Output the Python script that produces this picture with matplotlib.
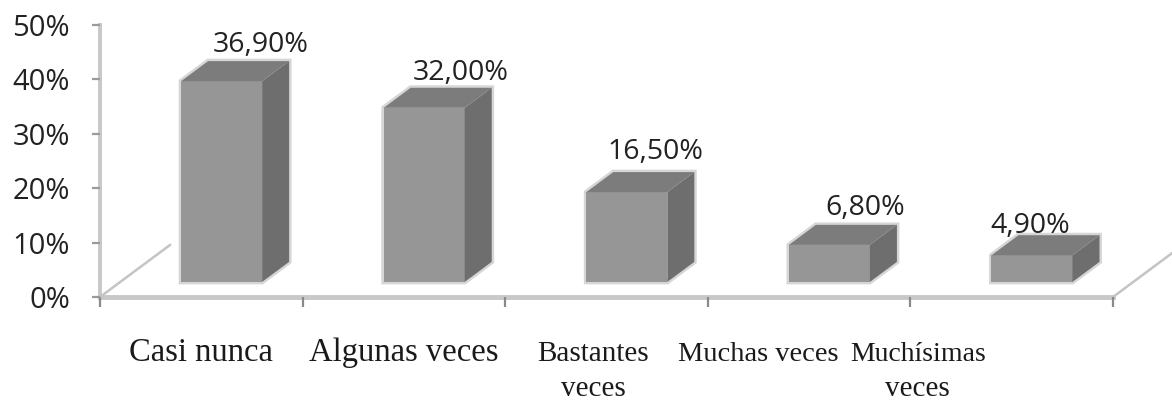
import matplotlib.pyplot as plt
from matplotlib.patches import Polygon

categories = ["Casi nunca", "Algunas veces", "Bastantes\nveces", "Muchas veces", "Muchísimas\nveces"]
values = [36.9, 32.0, 16.5, 6.8, 4.9]
value_labels = ["36,90%", "32,00%", "16,50%", "6,80%", "4,90%"]
yticks = [0, 10, 20, 30, 40, 50]
ytick_labels = ["0%", "10%", "20%", "30%", "40%", "50%"]

# pixel scale of the reference (px per category, px per percent)
PX = 202.6
PY = 5.44
W_FIG, H_FIG = 1172, 403

# 3d depth of the floor and of the bars
DX = 70 / PX
DY = 52 / PY
f0, f1 = 0.29, 0.676
BW = 81 / PX

# small nudges (px) to place texts like the original
lab_dx = [12, 9, 2, 9, -29]
lab_dy = [9, 8, 13, 10, 2]
cat_dx = [0, 0, -13, -51, -94]
cat_size = [23.5, 23.5, 21, 20.5, 20]

fig = plt.figure(figsize=(W_FIG / 100, H_FIG / 100), dpi=100)
ax = fig.add_axes([100 / W_FIG, (H_FIG - 297) / H_FIG, (W_FIG - 100) / W_FIG, 297 / H_FIG])
ax.set_xlim(0, (W_FIG - 100) / PX)
ax.set_ylim(0, 297 / PY)
for s in ax.spines.values():
    s.set_visible(False)

# walls / floor
ax.plot([0, 0], [0, 50], color="#c8c8c8", lw=2.8, clip_on=False, zorder=1)
ax.plot([0, 5], [0, 0], color="#c8c8c8", lw=3.5, clip_on=False, zorder=1)
ax.plot([0, DX], [0, DY], color="#c4c4c4", lw=1.8, clip_on=False, zorder=1)
ax.plot([5, 5 + DX], [0, DY], color="#c4c4c4", lw=1.8, clip_on=False, zorder=1)

ax.set_yticks(yticks)
ax.set_yticklabels(ytick_labels, fontfamily="Open Sans", fontsize=21, color="#222222")
ax.set_xticks(range(6))
ax.set_xticklabels([])
ax.tick_params(axis="y", length=5.5, width=1.6, color="#9a9a9a", pad=16)
ax.tick_params(axis="x", length=7, width=1.6, color="#8a8a8a")

ddx = (f1 - f0) * DX
ddy = (f1 - f0) * DY
for i, v in enumerate(values):
    x0 = i + 0.5 - BW / 2 + f0 * DX
    x1 = x0 + BW
    y0 = f0 * DY
    y1 = y0 + v
    outline = [(x0, y0), (x1, y0), (x1 + ddx, y0 + ddy), (x1 + ddx, y1 + ddy), (x0 + ddx, y1 + ddy), (x0, y1)]
    ax.add_patch(Polygon(outline, closed=True, fc="none", ec="#d6d6d6", lw=3.5, zorder=2))
    front = [(x0, y0), (x1, y0), (x1, y1), (x0, y1)]
    top = [(x0, y1), (x1, y1), (x1 + ddx, y1 + ddy), (x0 + ddx, y1 + ddy)]
    side = [(x1, y0), (x1 + ddx, y0 + ddy), (x1 + ddx, y1 + ddy), (x1, y1)]
    ax.add_patch(Polygon(front, closed=True, fc="#969696", ec="none", zorder=3))
    ax.add_patch(Polygon(top, closed=True, fc="#7c7c7c", ec="none", zorder=3))
    ax.add_patch(Polygon(side, closed=True, fc="#6e6e6e", ec="none", zorder=3))

    lx = (x0 + x1) / 2 + ddx + lab_dx[i] / PX
    ly = y1 + ddy + lab_dy[i] / PY
    ax.text(lx, ly, value_labels[i], ha="center", va="baseline",
            fontfamily="Open Sans", fontsize=20.5, color="#222222", zorder=4)

    # category labels, one text per line
    lines = categories[i].split("\n")
    cx = i + 0.5 + cat_dx[i] / PX
    ax.text(cx, -(361 - 297) / PY, lines[0], ha="center", va="baseline",
            fontfamily="Liberation Serif", fontsize=cat_size[i], color="#1a1a1a", clip_on=False)
    if len(lines) > 1:
        ax.text(cx, -(396 - 297) / PY, lines[1], ha="center", va="baseline",
                fontfamily="Liberation Serif", fontsize=21, color="#1a1a1a", clip_on=False)

fig.savefig("out.png", dpi=100)
